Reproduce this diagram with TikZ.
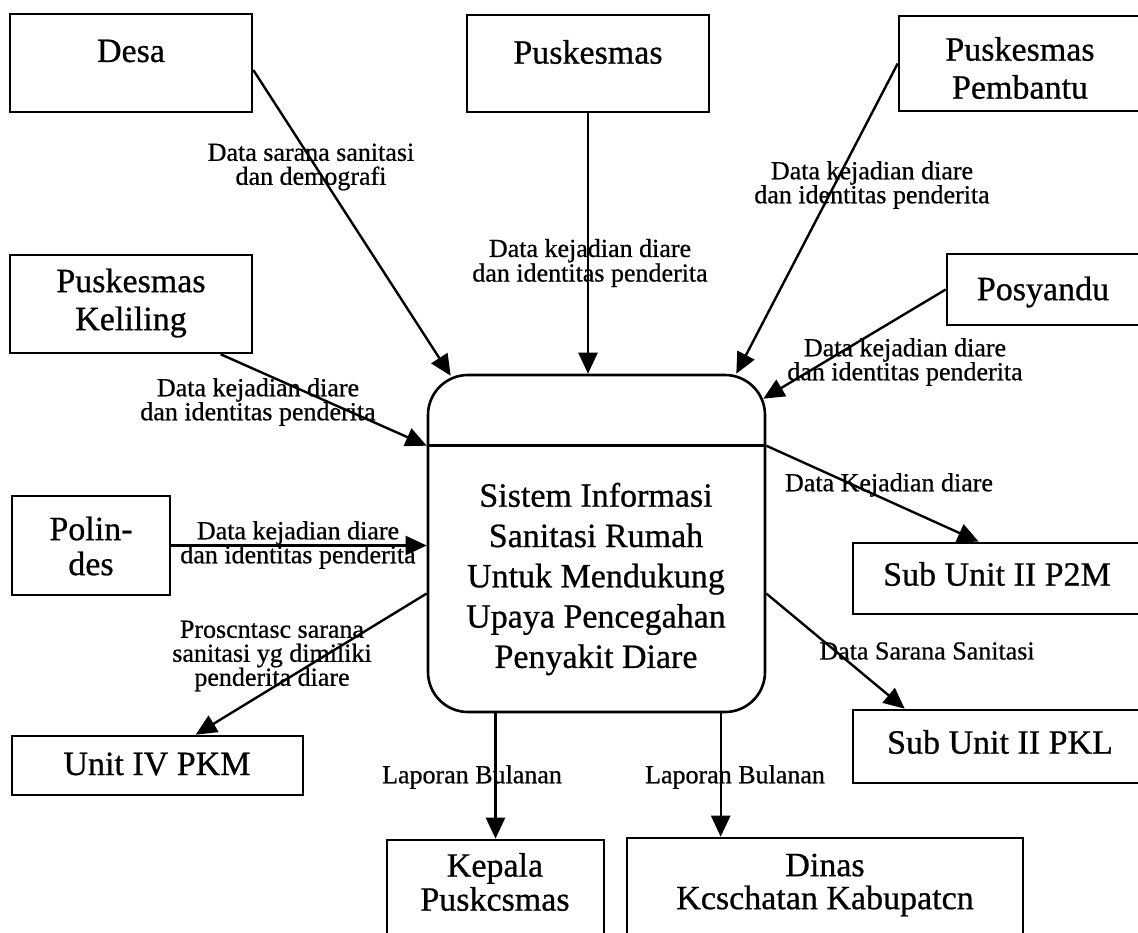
\documentclass[tikz,border=0pt]{standalone}
\usepackage{fontspec}
\setmainfont{Liberation Serif}[BoldFont={Liberation Serif}, BoldFeatures={FakeBold=0.7}]
\usetikzlibrary{arrows.meta,calc}

\begin{document}
\begin{tikzpicture}[x=1pt,y=-1pt,
  box/.style={draw, line width=2.6pt, rectangle, inner sep=0pt},
  boxtext/.style={font=\bfseries\fontsize{34}{38}\selectfont, align=center, inner sep=0pt},
  flowlabel/.style={font=\bfseries\fontsize{26}{24}\selectfont, align=center, inner sep=0pt},
  flow/.style={line width=2.4pt, -{Triangle[length=21pt,width=19pt]}},
]
\path[use as bounding box, clip] (0,0) rectangle (1138,932);

% external entities
\node[box, minimum width=242pt, minimum height=98pt] (desa) at (131,63) {};
\node[box, minimum width=242pt, minimum height=97pt] (pusk) at (588,63.5) {};
\node[box, minimum width=246pt, minimum height=95pt] (pemb) at (1022,63.5) {};
\node[box, minimum width=198pt, minimum height=71pt] (posy) at (1046,289.5) {};
\node[box, minimum width=242pt, minimum height=98pt] (kel) at (131,304) {};
\node[box, minimum width=158pt, minimum height=99pt] (pol) at (91,545.5) {};
\node[box, minimum width=291pt, minimum height=59pt] (unit) at (157.5,765.5) {};
\node[box, minimum width=292pt, minimum height=71pt] (p2m) at (999,578.5) {};
\node[box, minimum width=292pt, minimum height=73pt] (pkl) at (999,746.5) {};
\node[box, minimum width=217pt, minimum height=110pt] (kep) at (495.5,895) {};
\node[box, minimum width=396pt, minimum height=112pt] (din) at (825,894) {};

\node[boxtext] (desa-t) at (131,51) {Desa};
\node[boxtext] (pusk-t) at (588,52) {Puskesmas};
\node[boxtext] (pemb-t) at (1020,68) {Puskesmas\\Pembantu};
\node[boxtext] (posy-t) at (1043,292) {Posyandu};
\node[boxtext] (kel-t) at (131,303) {Puskesmas\\Keliling};
\node[boxtext, font=\bfseries\fontsize{34}{35}\selectfont] (pol-t) at (91,546) {Polin-\\des};
\node[boxtext] (unit-t) at (157,764) {Unit IV PKM};
\node[boxtext] (p2m-t) at (997,574) {Sub Unit II P2M};
\node[boxtext] (pkl-t) at (1000,742) {Sub Unit II PKL};
\node[boxtext, font=\bfseries\fontsize{34}{34}\selectfont] (kep-t) at (495,882) {Kepala\\Puskcsmas};
\node[boxtext, font=\bfseries\fontsize{34}{33}\selectfont] (din-t) at (825,885) {Dinas\\Kcschatan Kabupatcn};

% the process
\node[draw, line width=2.6pt, rounded corners=40pt, minimum width=337pt, minimum height=337pt,
      inner sep=0pt] (proc) at (596.5,543.5) {};
\draw[line width=2.6pt] ($(proc.north west)+(0,72)$) coordinate (divL)
  -- ($(proc.north east)+(0,72)$) coordinate (divR);
\node[boxtext, font=\bfseries\fontsize{34}{40.3}\selectfont] (proc-t) at (596,579)
  {Sistem Informasi\\Sanitasi Rumah\\Untuk Mendukung\\Upaya Pencegahan\\Penyakit Diare};

% data flows
\draw[flow] ($(desa.east)+(0,7)$) -- ($(proc.north west)+(24,2)$);
\draw[flow] (pusk.south) -- (pusk.south |- proc.north);
\draw[flow] (pemb.west) -- ($(proc.north east)+(-30,0)$);
\draw[flow] (posy.west) -- ($(proc.north east)+(-3,25)$);
\draw[flow] ($(kel.south west)+(212,0)$) -- (divL);
\draw[flow] (pol.east) -- (pol.east -| proc.west);
\draw[flow] ($(proc.west)+(0,50)$) -- ($(unit.north west)+(185,0)$);
\draw[flow] (divR) -- ($(p2m.north west)+(127,0)$);
\draw[flow] ($(proc.east)+(0,50)$) -- ($(pkl.north west)+(53,0)$);
\draw[flow] (kep.north |- proc.south) -- (kep.north);
\coordinate (dinIn) at ($(din.north west)+(95,0)$);
\draw[flow] (dinIn |- proc.south) -- (dinIn);

% flow labels
\node[flowlabel] (l-desa) at (311,167) {Data sarana sanitasi\\dan demografi};
\node[flowlabel, font=\bfseries\fontsize{26}{22}\selectfont] (l-pusk) at (590,263) {Data kejadian diare\\dan identitas penderita};
\node[flowlabel] (l-pemb) at (872,185) {Data kejadian diare\\dan identitas penderita};
\node[flowlabel] (l-posy) at (905,362) {Data kejadian diare\\dan identitas penderita};
\node[flowlabel] (l-kel) at (258,402) {Data kejadian diare\\dan identitas penderita};
\node[flowlabel] (l-pol) at (298,545) {Data kejadian diare\\dan identitas penderita};
\node[flowlabel] (l-unit) at (272,656) {Proscntasc sarana\\sanitasi yg dimiliki\\penderita diare};
\node[flowlabel] (l-p2m) at (889,485) {Data Kejadian diare};
\node[flowlabel] (l-pkl) at (927,651) {Data Sarana Sanitasi};
\node[flowlabel] (l-kep) at (472,777) {Laporan Bulanan};
\node[flowlabel] (l-din) at (735,777) {Laporan Bulanan};
\end{tikzpicture}
\end{document}
